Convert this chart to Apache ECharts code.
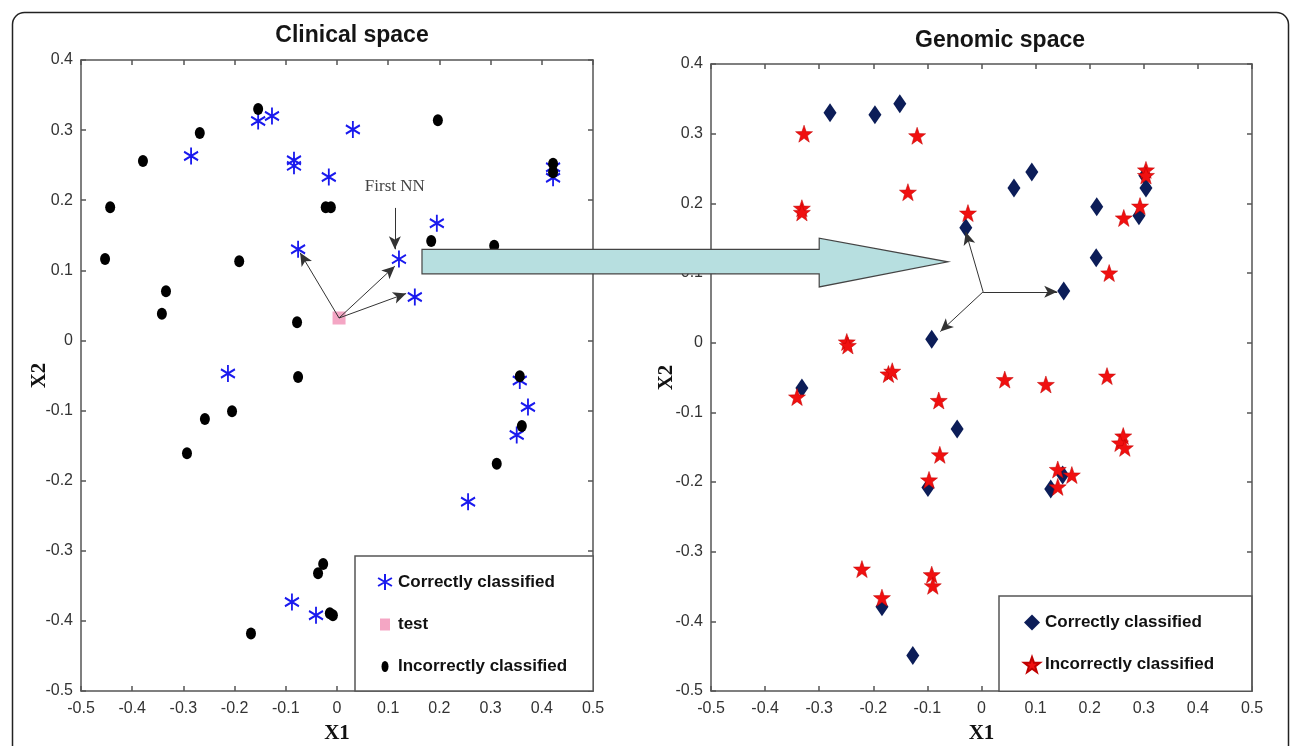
<!DOCTYPE html>
<html>
<head>
<meta charset="utf-8">
<script src="https://cdn.jsdelivr.net/npm/echarts@6/dist/echarts.min.js"></script>
<style>
  html, body { margin: 0; padding: 0; background: #fff; }
  #chart { width: 1290px; height: 746px; }
</style>
</head>
<body>
<div id="chart"></div>
<script>
// ---- data ----
var xTicks = [-0.5, -0.4, -0.3, -0.2, -0.1, 0, 0.1, 0.2, 0.3, 0.4, 0.5];
var yTicks = [-0.5, -0.4, -0.3, -0.2, -0.1, 0, 0.1, 0.2, 0.3, 0.4];

// clinical space
var clinCorrect = [
  [-0.285, 0.263], [-0.154, 0.313], [-0.127, 0.320], [-0.084, 0.257], [-0.084, 0.249],
  [-0.016, 0.233], [0.031, 0.301], [-0.076, 0.130], [0.121, 0.116], [0.152, 0.062],
  [0.195, 0.167], [0.422, 0.247], [0.422, 0.232], [-0.213, -0.047], [-0.088, -0.373],
  [-0.041, -0.392], [0.357, -0.057], [0.373, -0.095], [0.351, -0.135], [0.256, -0.230]
];
var clinTest = [[0.004, 0.032]];
var clinIncorrect = [
  [-0.443, 0.190], [-0.453, 0.116], [-0.379, 0.256], [-0.268, 0.296], [-0.154, 0.330],
  [-0.191, 0.113], [-0.334, 0.070], [-0.342, 0.038], [-0.078, 0.026], [-0.022, 0.190],
  [-0.012, 0.190], [0.197, 0.314], [0.184, 0.142], [0.307, 0.135], [0.422, 0.252],
  [0.422, 0.240], [-0.076, -0.052], [-0.205, -0.101], [-0.258, -0.112], [-0.293, -0.161],
  [-0.027, -0.319], [-0.037, -0.332], [-0.014, -0.389], [-0.008, -0.392], [-0.168, -0.418],
  [0.357, -0.051], [0.361, -0.122], [0.312, -0.176]
];
var clinArrows = [
  [[0.004, 0.032], [-0.072, 0.125]],
  [[0.004, 0.032], [0.113, 0.106]],
  [[0.004, 0.032], [0.135, 0.067]],
  [[0.113, 0.189], [0.113, 0.130]]
];

// genomic space
var genCorrect = [
  [-0.280, 0.330], [-0.197, 0.327], [-0.151, 0.343], [-0.029, 0.165], [-0.092, 0.005],
  [0.060, 0.222], [0.093, 0.245], [0.213, 0.195], [0.212, 0.122], [0.152, 0.074],
  [0.304, 0.222], [0.291, 0.182], [0.302, 0.240], [-0.332, -0.065], [-0.045, -0.124],
  [-0.099, -0.208], [-0.184, -0.379], [-0.127, -0.449], [0.128, -0.210], [0.150, -0.190]
];
var genIncorrect = [
  [-0.328, 0.300], [-0.119, 0.297], [-0.136, 0.216], [-0.332, 0.193], [-0.332, 0.187],
  [-0.025, 0.186], [-0.249, 0.001], [-0.247, -0.004], [-0.341, -0.078], [-0.172, -0.045],
  [-0.165, -0.041], [-0.079, -0.083], [-0.077, -0.161], [-0.097, -0.197], [-0.221, -0.325],
  [-0.184, -0.366], [-0.092, -0.333], [-0.090, -0.349], [0.304, 0.248], [0.304, 0.240],
  [0.293, 0.196], [0.263, 0.179], [0.236, 0.100], [0.043, -0.053], [0.119, -0.060],
  [0.232, -0.048], [0.262, -0.134], [0.256, -0.144], [0.265, -0.151], [0.141, -0.182],
  [0.167, -0.190], [0.141, -0.207]
];
var genArrows = [
  [[0.003, 0.073], [-0.029, 0.159]],
  [[0.003, 0.073], [0.140, 0.073]],
  [[0.003, 0.073], [-0.076, 0.016]]
];

var ASTERISK = 'path://M0,-10L0,10M-8.66,-5L8.66,5M-8.66,5L8.66,-5';
var STAR = 'path://M0,-10L2.35,-3.24L9.51,-3.09L3.8,1.24L5.88,8.09L0,4L-5.88,8.09L-3.8,1.24L-9.51,-3.09L-2.35,-3.24Z';
// smaller legend icons (extra move-to points pad the icon box)
var DOT_ICON = 'path://M-8,-8M8,8M-3.5,0A3.5,5.5,0,1,0,3.5,0A3.5,5.5,0,1,0,-3.5,0Z';
var SQUARE_ICON = 'path://M-8,-8M8,8M-5,-6L5,-6L5,6L-5,6Z';

var tickFont = { fontFamily: 'Liberation Sans Narrow, Liberation Sans', fontSize: 16, color: '#333' };
var nameFont = { fontFamily: 'Liberation Serif', fontWeight: 'bold', fontSize: 21, color: '#111' };

function xAx(grid, main) {
  return {
    type: 'value', gridIndex: grid, min: -0.5, max: 0.5, interval: 0.1,
    position: main ? 'bottom' : 'top',
    name: main ? 'X1' : '', nameLocation: 'middle', nameGap: 32, nameMoveOverlap: false,
    nameTextStyle: nameFont,
    axisLine: { show: true, onZero: false, lineStyle: { color: '#555', width: 1.5 } },
    axisTick: { show: true, inside: true, length: 5, lineStyle: { color: '#555', width: 1.5 } },
    axisLabel: { show: main, margin: 10, textStyle: tickFont, formatter: function(v) { return +v.toFixed(1) + ''; } },
    splitLine: { show: false }
  };
}
function yAx(grid, main, gap) {
  return {
    type: 'value', gridIndex: grid, min: -0.5, max: 0.4, interval: 0.1,
    position: main ? 'left' : 'right',
    name: main ? 'X2' : '', nameLocation: 'middle', nameGap: gap, nameRotate: 90, nameMoveOverlap: false,
    nameTextStyle: nameFont,
    axisLine: { show: true, onZero: false, lineStyle: { color: '#555', width: 1.5 } },
    axisTick: { show: true, inside: true, length: 5, lineStyle: { color: '#555', width: 1.5 } },
    axisLabel: { show: main, margin: 8, textStyle: tickFont, formatter: function(v) { return +v.toFixed(1) + ''; } },
    splitLine: { show: false }
  };
}

function arrowLines(pairs) {
  return {
    silent: true,
    symbol: ['none', 'arrow'],
    symbolSize: [9, 13],
    label: { show: false },
    lineStyle: { color: '#333', width: 1, type: 'solid', opacity: 1 },
    emphasis: { disabled: true },
    data: pairs.map(function(p) { return [{ coord: p[0] }, { coord: p[1] }]; })
  };
}

var legendText = { fontFamily: 'Liberation Sans', fontWeight: 'bold', fontSize: 17, color: '#111' };

var chart = echarts.init(document.getElementById('chart'));
var option = {
  backgroundColor: '#fff',
  animation: false,
  title: [
    { text: 'Clinical space', left: 347, top: 19, textAlign: 'center',
      textStyle: { fontFamily: 'Liberation Sans', fontSize: 23, fontWeight: 'bold', color: '#151515' } },
    { text: 'Genomic space', left: 995, top: 24, textAlign: 'center',
      textStyle: { fontFamily: 'Liberation Sans', fontSize: 23, fontWeight: 'bold', color: '#151515' } }
  ],
  grid: [
    { left: 81, top: 60, width: 512, height: 631, outerBoundsMode: 'none' },
    { left: 711, top: 64, width: 541, height: 627, outerBoundsMode: 'none' }
  ],
  xAxis: [xAx(0, true), xAx(0, false), xAx(1, true), xAx(1, false)],
  yAxis: [yAx(0, true, 31), yAx(0, false, 0), yAx(1, true, 34), yAx(1, false, 0)],
  legend: [
    {
      data: [
        { name: 'Correctly classified' },
        { name: 'test', icon: SQUARE_ICON },
        { name: 'Incorrectly classified', icon: DOT_ICON }
      ],
      orient: 'vertical', left: 355, top: 556,
      padding: [17, 26, 16, 22], itemGap: 25, itemWidth: 16, itemHeight: 16,
      borderColor: '#555', borderWidth: 1.5, backgroundColor: '#fff',
      textStyle: legendText, selectedMode: false
    },
    {
      data: ['Correctly classified ', 'Incorrectly classified '],
      orient: 'vertical', left: 999, top: 596,
      padding: [18, 33, 18, 24], itemGap: 25, itemWidth: 16, itemHeight: 16,
      borderColor: '#555', borderWidth: 1.5, backgroundColor: '#fff',
      textStyle: legendText, selectedMode: false
    }
  ],
  series: [
    {
      name: 'Correctly classified', type: 'scatter', xAxisIndex: 0, yAxisIndex: 0,
      symbol: ASTERISK, symbolSize: [14, 17],
      itemStyle: { color: '#1a1aee', borderColor: '#1a1aee', borderWidth: 2, opacity: 1 },
      data: clinCorrect
    },
    {
      name: 'test', type: 'scatter', xAxisIndex: 0, yAxisIndex: 0,
      symbol: 'rect', symbolSize: 13,
      itemStyle: { color: '#f4a6c4', opacity: 1 },
      data: clinTest,
      markLine: arrowLines(clinArrows)
    },
    {
      name: 'Incorrectly classified', type: 'scatter', xAxisIndex: 0, yAxisIndex: 0,
      symbol: 'circle', symbolSize: [10, 12],
      itemStyle: { color: '#000', opacity: 1 },
      data: clinIncorrect
    },
    {
      name: 'Correctly classified ', type: 'scatter', xAxisIndex: 2, yAxisIndex: 2,
      symbol: 'diamond', symbolSize: [13, 19],
      itemStyle: { color: '#0c1d58', opacity: 1 },
      data: genCorrect,
      markLine: arrowLines(genArrows)
    },
    {
      name: 'Incorrectly classified ', type: 'scatter', xAxisIndex: 2, yAxisIndex: 2,
      symbol: STAR, symbolSize: 17,
      itemStyle: { color: '#f01010', borderColor: '#c00000', borderWidth: 0.5, opacity: 1 },
      data: genIncorrect
    }
  ]
};
chart.setOption(option);

// annotations placed through the axes' own scales
var a = chart.convertToPixel({ gridIndex: 0 }, [0.166, 0.130]);
var b = chart.convertToPixel({ gridIndex: 0 }, [0.166, 0.095]);
var hTop = chart.convertToPixel({ gridIndex: 1 }, [-0.300, 0.150]);
var hBot = chart.convertToPixel({ gridIndex: 1 }, [-0.300, 0.080]);
var tip = chart.convertToPixel({ gridIndex: 1 }, [-0.062, 0.116]);
var nnText = chart.convertToPixel({ gridIndex: 0 }, [0.113, 0.220]);

chart.setOption({
  graphic: [
    {
      type: 'rect', left: 10, top: 10, z: 100, silent: true,
      shape: { width: 1276, height: 780, r: 12 },
      style: { fill: 'none', stroke: '#222', lineWidth: 1.5 }
    },
    {
      type: 'polygon', z: 50, silent: true,
      shape: { points: [
        [a[0], a[1]], [hTop[0], a[1]], [hTop[0], hTop[1]], [tip[0], tip[1]],
        [hBot[0], hBot[1]], [hBot[0], b[1]], [b[0], b[1]]
      ] },
      style: { fill: '#b7dfe0', stroke: '#444', lineWidth: 1.2 }
    },
    {
      type: 'text', z: 60, silent: true,
      x: nnText[0], y: nnText[1],
      style: { text: 'First NN', fill: '#444', font: '17px "Liberation Serif"', align: 'center', verticalAlign: 'middle' }
    }
  ]
});
</script>
</body>
</html>
